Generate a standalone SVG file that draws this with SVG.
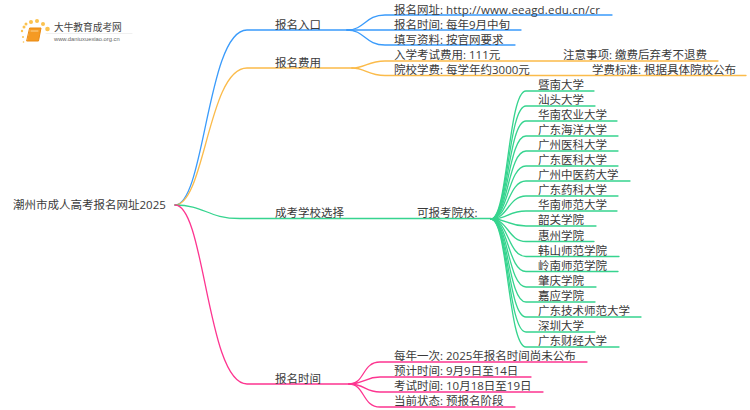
<svg xmlns="http://www.w3.org/2000/svg" width="750" height="410" viewBox="0 0 750 410">
<style>
text{font-family:"Open Sans","Noto Sans CJK SC",sans-serif;font-size:11.5px;fill:#3a3a3a}
path{fill:none;stroke-width:1.3;stroke-linecap:round}
.b{stroke:#3a9bfb}.o{stroke:#fbbb4a}.g{stroke:#36d48f}.p{stroke:#fd3590}
</style>
<rect width="750" height="410" fill="#fff"/>
<g id="connectors">
<g class="b">
<path d="M175 205C205 205 207 30 247 30H347"/>
<path d="M347 30C365 30 365 15 385 15H612"/>
<path d="M347 30H521"/>
<path d="M347 30C365 30 365 45 385 45H515"/>
</g>
<g class="o">
<path d="M175 205C205 205 208 68 247 68H352"/>
<path d="M352 68C365 68 368 61 385 61H718"/>
<path d="M352 68C365 68 368 75.500 385 75.500H746"/>
</g>
<g class="g">
<path d="M175 205C205 205 207 218.500 240 218.500H491"/>
<path d="M491 219C508 219 508 91 526 91H594"/>
<path d="M491 219C508 219 508 106 526 106H595"/>
<path d="M491 219C508 219 508 121 526 121H617"/>
<path d="M491 219C508 219 508 136 526 136H618"/>
<path d="M491 219C508 219 508 151 526 151H618"/>
<path d="M491 219C508 219 508 166 526 166H618"/>
<path d="M491 219C508 219 508 181 526 181H630"/>
<path d="M491 219C508 219 508 196 526 196H618"/>
<path d="M491 219C508 219 508 211 526 211H617"/>
<path d="M491 219C508 219 508 226 526 226H596"/>
<path d="M491 219C508 219 508 241.500 526 241.500H594"/>
<path d="M491 219C508 219 508 256.500 526 256.500H619"/>
<path d="M491 219C508 219 508 271.500 526 271.500H618"/>
<path d="M491 219C508 219 508 287 526 287H596"/>
<path d="M491 219C508 219 508 302 526 302H595"/>
<path d="M491 219C508 219 508 317 526 317H641"/>
<path d="M491 219C508 219 508 332 526 332H595"/>
<path d="M491 219C508 219 508 347 526 347H619"/>
</g>
<g class="p">
<path d="M175 205C205 205 207 384 247 384H349"/>
<path d="M349 384C365 384 362 362 380 362H587"/>
<path d="M349 384C365 384 365 377 380 377H531"/>
<path d="M349 384C365 384 365 392 380 392H543"/>
<path d="M349 384C365 384 362 407 380 407H515"/>
</g>
</g>
<g id="logo">
<g fill="#fbc24f"><circle cx="24" cy="27" r="1.500"/><circle cx="26" cy="24" r="1.500"/><circle cx="31" cy="22" r="2"/><circle cx="37" cy="21" r="2"/><circle cx="43" cy="24" r="2"/><circle cx="47.500" cy="29" r="2.300"/><circle cx="22" cy="31" r="1.200"/><circle cx="23" cy="37" r="1"/><circle cx="23.500" cy="42" r="0.800"/></g>
<path d="M30 28H41L38.500 41H27Z" style="fill:#f59a23;stroke:#e98a12;stroke-width:1;stroke-linejoin:round"/>
<path d="M31 31H38" style="stroke:#fde3b0;stroke-width:0.800"/>
<path d="M46 33.500H132" style="stroke:#e6e6e6;stroke-width:0.600"/>
<text x="54" y="31" style="font-size:9.700px;fill:#444">大牛教育成考网</text>
<text x="54" y="41" style="font-size:5.800px;fill:#666;font-family:'Liberation Sans',sans-serif">www.daniuxuexiao.org.cn</text>
</g>
<g id="root"><text x="13" y="209">潮州市成人高考报名网址2025</text></g>
<g id="n1"><text x="275" y="28.500">报名入口</text></g>
<g id="n1-1"><text x="394" y="13.500">报名网址: <tspan style="letter-spacing:0.170px">http://www.eeagd.edu.cn/cr</tspan></text></g>
<g id="n1-2"><text x="394" y="28.500">报名时间: 每年9月中旬</text></g>
<g id="n1-3"><text x="394" y="43.500">填写资料: 按官网要求</text></g>
<g id="n2"><text x="275" y="66.500">报名费用</text></g>
<g id="n2-1"><text x="394" y="59">入学考试费用: 111元</text></g>
<g id="n2-1a"><text x="563" y="59">注意事项: 缴费后弃考不退费</text></g>
<g id="n2-2"><text x="394" y="74">院校学费: 每学年约3000元</text></g>
<g id="n2-2a"><text x="592" y="74">学费标准: 根据具体院校公布</text></g>
<g id="n3"><text x="275" y="217">成考学校选择</text></g>
<g id="n3-1"><text x="417" y="217">可报考院校:</text></g>
<g id="s1"><text x="538" y="89">暨南大学</text></g>
<g id="s2"><text x="538" y="104">汕头大学</text></g>
<g id="s3"><text x="538" y="119">华南农业大学</text></g>
<g id="s4"><text x="538" y="134">广东海洋大学</text></g>
<g id="s5"><text x="538" y="149">广州医科大学</text></g>
<g id="s6"><text x="538" y="164">广东医科大学</text></g>
<g id="s7"><text x="538" y="179">广州中医药大学</text></g>
<g id="s8"><text x="538" y="194">广东药科大学</text></g>
<g id="s9"><text x="538" y="209">华南师范大学</text></g>
<g id="s10"><text x="538" y="224">韶关学院</text></g>
<g id="s11"><text x="538" y="239.500">惠州学院</text></g>
<g id="s12"><text x="538" y="254.500">韩山师范学院</text></g>
<g id="s13"><text x="538" y="269.500">岭南师范学院</text></g>
<g id="s14"><text x="538" y="285">肇庆学院</text></g>
<g id="s15"><text x="538" y="300">嘉应学院</text></g>
<g id="s16"><text x="538" y="315">广东技术师范大学</text></g>
<g id="s17"><text x="538" y="330">深圳大学</text></g>
<g id="s18"><text x="538" y="345">广东财经大学</text></g>
<g id="n4"><text x="275" y="383">报名时间</text></g>
<g id="n4-1"><text x="394" y="360">每年一次: 2025年报名时间尚未公布</text></g>
<g id="n4-2"><text x="394" y="375">预计时间: 9月9日至14日</text></g>
<g id="n4-3"><text x="394" y="390">考试时间: 10月18日至19日</text></g>
<g id="n4-4"><text x="394" y="405">当前状态: 预报名阶段</text></g>
</svg>
